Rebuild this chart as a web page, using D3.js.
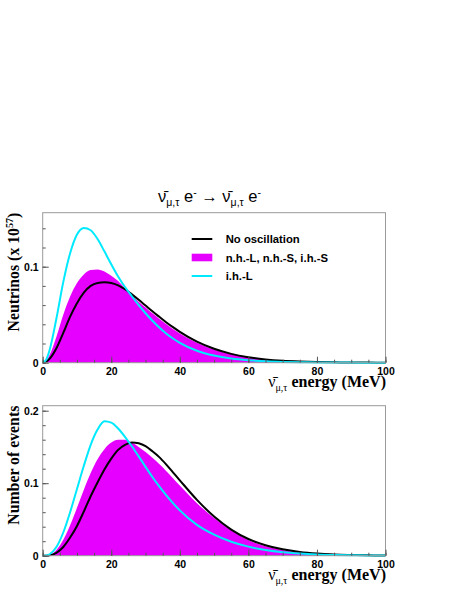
<!DOCTYPE html>
<html><head><meta charset="utf-8">
<script src="https://cdn.jsdelivr.net/npm/d3@7"></script>
<style>
body{margin:0;background:#fff;}
svg{display:block;}
</style></head>
<body>
<svg id="c" width="463" height="599"></svg>
<script>
const energy = [0,1,2,4,6,8,10,12,14,16,18,20,22,24,26,28,30,32,34,36,38,40,45,50,55,60,65,70,75,80,85,90,95,100];

// Top panel: Neutrinos (x 10^57)
const topNoOsc = [0,0.001,0.004,0.015,0.031,0.048,0.062,0.073,0.080,0.0830,0.0837,0.0830,0.0805,0.0765,0.0712,0.0655,0.0595,0.0535,0.0478,0.0422,0.0370,0.0322,0.0220,0.0145,0.0092,0.0057,0.0034,0.0020,0.0012,0.0007,0.0004,0.0002,0.0001,0.00005];
const topNH = [0,0.002,0.008,0.027,0.050,0.069,0.083,0.092,0.0965,0.0972,0.0950,0.0905,0.0850,0.0775,0.0700,0.0635,0.0575,0.0515,0.0458,0.0403,0.0352,0.0305,0.0208,0.0137,0.0087,0.0054,0.0032,0.0019,0.0011,0.0006,0.0003,0.0002,0.0001,0.00005];
const topIHL = [0,0.003,0.013,0.046,0.084,0.114,0.1335,0.1403,0.1380,0.1288,0.1160,0.1025,0.0898,0.0788,0.0692,0.0600,0.0515,0.0437,0.0367,0.0305,0.0252,0.0207,0.0125,0.0074,0.0043,0.0025,0.0014,0.0008,0.0005,0.0003,0.0002,0.0001,0.00005,0];

// Bottom panel: Number of events
const botNoOsc = [0,0.0001,0.0006,0.004,0.012,0.025,0.041,0.061,0.082,0.101,0.119,0.134,0.146,0.153,0.1563,0.155,0.151,0.144,0.136,0.126,0.115,0.104,0.077,0.054,0.036,0.023,0.0145,0.0088,0.0052,0.003,0.0017,0.001,0.0005,0.0003];
const botNH = [0,0.0002,0.001,0.008,0.022,0.042,0.066,0.091,0.114,0.133,0.147,0.156,0.1598,0.1600,0.1560,0.1500,0.1430,0.1350,0.1265,0.1170,0.1070,0.0970,0.0725,0.0520,0.0350,0.0215,0.013,0.008,0.0047,0.0027,0.0016,0.0009,0.0005,0.0003];
const botIHL = [0,0.0003,0.002,0.012,0.032,0.060,0.092,0.124,0.153,0.174,0.1855,0.1835,0.1755,0.1640,0.1510,0.1370,0.1225,0.1085,0.0955,0.0835,0.0725,0.0625,0.0425,0.0290,0.0193,0.0125,0.0078,0.0048,0.003,0.0018,0.0011,0.0007,0.0004,0.0003];

const legendLabels = ["No oscillation","n.h.-L, n.h.-S, i.h.-S","i.h.-L"];
const xMajorTicks = [0,20,40,60,80,100];
const topYMajor = [0,0.1];
const botYMajor = [0,0.1,0.2];

const COL_BLACK = "#000", COL_MAG = "#e600ff", COL_CYAN = "#00eaff";
const svg = d3.select("#c");
svg.append("rect").attr("width",463).attr("height",599).attr("fill","#fff");

const x = d3.scaleLinear().domain([0,100]).range([42.7,385.5]);

function panel(y, noOsc, nh, ihl, ylabelFn, ymax, yMajor){
  const [y0,y1] = y.range();
  const g = svg.append("g");
  const pts = (arr)=>energy.map((e,i)=>[e,arr[i]]);
  const area = d3.area().x(d=>x(d[0])).y0(y(0)).y1(d=>y(d[1])).curve(d3.curveMonotoneX);
  const line = d3.line().x(d=>x(d[0])).y(d=>y(d[1])).curve(d3.curveMonotoneX);
  g.append("path").attr("d",area(pts(nh))).attr("fill",COL_MAG);
  g.append("path").attr("d",line(pts(noOsc))).attr("fill","none").attr("stroke",COL_BLACK).attr("stroke-width",2);
  g.append("path").attr("d",line(pts(ihl))).attr("fill","none").attr("stroke",COL_CYAN).attr("stroke-width",2);
  // frame
  g.append("rect").attr("x",x(0)).attr("y",y1).attr("width",x(100)-x(0)).attr("height",y0-y1)
    .attr("fill","none").attr("stroke","#9a9a9a").attr("stroke-width",1);
  // x axis
  const xMinor = d3.range(0,101,5);
  const gxm = g.append("g").attr("transform",`translate(0,${y0})`)
    .call(d3.axisBottom(x).tickValues(xMinor).tickSize(-3).tickFormat(""));
  const gx = g.append("g").attr("transform",`translate(0,${y0})`)
    .call(d3.axisBottom(x).tickValues(xMajorTicks).tickSize(-6).tickPadding(5).tickFormat(d3.format("d")));
  // y axis
  const yMinor = d3.range(0, ymax+1e-9, 0.02);
  const gym = g.append("g").attr("transform",`translate(${x(0)},0)`)
    .call(d3.axisLeft(y).tickValues(yMinor).tickSize(-3).tickFormat(""));
  const gy = g.append("g").attr("transform",`translate(${x(0)},0)`)
    .call(d3.axisLeft(y).tickValues(yMajor).tickSize(-6).tickPadding(4).tickFormat(d=>d===0?"0":d3.format(".1f")(d)));
  [gxm,gx,gym,gy].forEach(a=>{
    a.select(".domain").remove();
    a.selectAll(".tick line").attr("stroke","#555");
    a.selectAll("text").attr("font-family","Liberation Sans, Arial, sans-serif").attr("font-weight","bold")
      .attr("font-size",10.5).attr("fill","#000");
  });
  // x label
  const xl = g.append("text").attr("x",386).attr("y",y0+24).attr("text-anchor","end")
    .attr("font-family","Liberation Serif, Times New Roman, serif").attr("font-size",16).attr("font-weight","bold");
  xl.append("tspan").attr("font-weight","normal").text("\u03BD\u0304");
  xl.append("tspan").attr("font-weight","normal").attr("font-size",10).attr("dy",4).text("\u03BC,\u03C4");
  xl.append("tspan").attr("dy",-4).text(" energy (MeV)");
  // y label
  const yl = g.append("text").attr("transform",`translate(18.5,${y1}) rotate(-90)`).attr("text-anchor","end")
    .attr("font-family","Liberation Serif, Times New Roman, serif").attr("font-size",15.8).attr("font-weight","bold");
  ylabelFn(yl);
  return g;
}

const yTop = d3.scaleLinear().domain([0,0.15625]).range([362.7,212.7]);
const yBot = d3.scaleLinear().domain([0,0.2069]).range([555.7,405.7]);

panel(yTop, topNoOsc, topNH, topIHL, t=>{
  t.append("tspan").text("Neutrinos (x 10");
  t.append("tspan").attr("font-size",10).attr("dy",-6).text("57");
  t.append("tspan").attr("dy",6).text(")");
}, 0.15625, topYMajor);
panel(yBot, botNoOsc, botNH, botIHL, t=>{ t.text("Number of events"); }, 0.2069, botYMajor);

// title
const title = svg.append("text").attr("x",209.5).attr("y",202.3).attr("text-anchor","middle")
  .attr("font-family","Liberation Sans, Arial, sans-serif").attr("font-size",16.5);
title.append("tspan").text("\u03BD\u0304");
title.append("tspan").attr("font-size",10.5).attr("dy",4).text("\u03BC,\u03C4");
title.append("tspan").attr("dy",-4).text(" e");
title.append("tspan").attr("font-size",10.5).attr("dy",-6).text("-");
title.append("tspan").attr("dy",6).text(" \u2192 \u03BD\u0304");
title.append("tspan").attr("font-size",10.5).attr("dy",4).text("\u03BC,\u03C4");
title.append("tspan").attr("dy",-4).text(" e");
title.append("tspan").attr("font-size",10.5).attr("dy",-6).text("-");

// legend
const legY = [239,257.5,276];
const lg = svg.append("g");
lg.append("line").attr("x1",191.7).attr("x2",212.3).attr("y1",legY[0]).attr("y2",legY[0]).attr("stroke",COL_BLACK).attr("stroke-width",2);
lg.append("rect").attr("x",191.7).attr("y",legY[1]-3.8).attr("width",20.6).attr("height",7.6).attr("fill",COL_MAG);
lg.append("line").attr("x1",191.7).attr("x2",212.3).attr("y1",legY[2]).attr("y2",legY[2]).attr("stroke",COL_CYAN).attr("stroke-width",2);
legendLabels.forEach((s,i)=>{
  lg.append("text").attr("x",225.7).attr("y",legY[i]).attr("dy","0.36em")
    .attr("font-family","Liberation Sans, Arial, sans-serif").attr("font-weight","bold").attr("font-size",11.3).text(s);
});
</script>
</body></html>
